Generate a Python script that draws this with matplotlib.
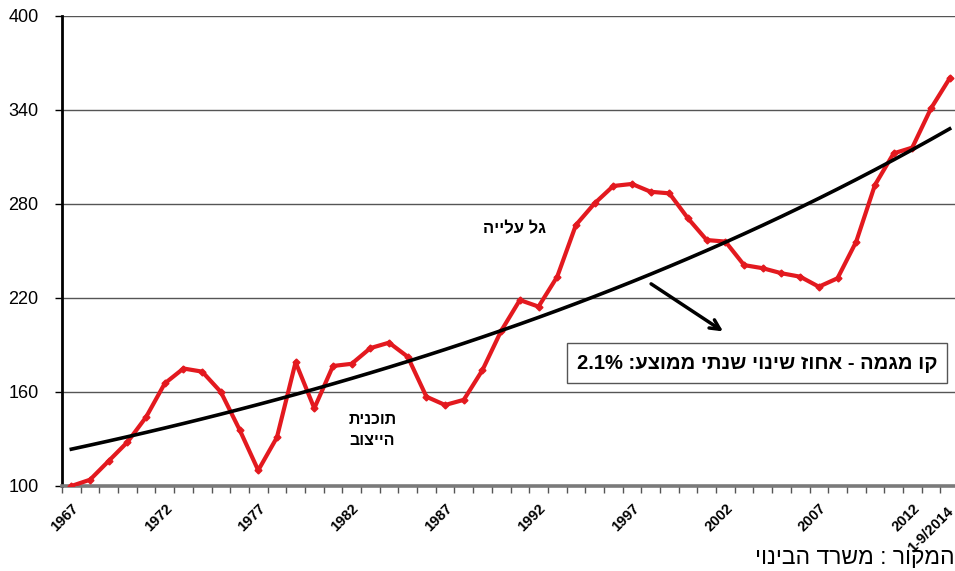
import re
import numpy as np
import matplotlib
matplotlib.use("Agg")
from matplotlib import pyplot as plt
from matplotlib import transforms

plt.rcParams['font.family'] = ['Liberation Sans', 'DejaVu Sans']

# yearly index, 1967 = 100
years = list(range(1967, 2015))
index_values = [100, 104, 116, 128, 144, 165.5, 175, 173, 160, 136,
                110, 131, 179, 149.6, 176.6, 178, 188, 191.5, 182.5, 157,
                151.7, 155, 174, 199, 218.7, 214.5, 233.6, 266.6, 280.4, 291.5,
                292.8, 287.8, 286.8, 270.8, 257, 256, 241, 239, 235.8, 233.6,
                227.2, 232.6, 256, 292.1, 312.3, 316, 341, 360.2]

# trend line: start level and average yearly change (%)
trend_start = 123.5
trend_rate = 2.1

tick_years = [1967, 1972, 1977, 1982, 1987, 1992, 1997, 2002, 2007, 2012, 2014]
tick_labels = ['1967', '1972', '1977', '1982', '1987', '1992', '1997', '2002',
               '2007', '2012', '1-9/2014']
y_ticks = [100, 160, 220, 280, 340, 400]

wave_label = 'גל עלייה'
plan_label = 'תוכנית\nהייצוב'
trend_label = 'קו מגמה - אחוז שינוי שנתי ממוצע: 2.1%'
source_label = 'המקור : משרד הבינוי'


def heb(s):
    # matplotlib lays text out left to right, so flip each line and keep numbers readable
    lines = []
    for line in s.split('\n'):
        flipped = line[::-1]
        flipped = re.sub(r'[0-9.%]+', lambda m: m.group(0)[::-1], flipped)
        lines.append(flipped)
    return '\n'.join(lines)


x = np.arange(len(years))
trend = trend_start * (1 + trend_rate / 100.0) ** x

fig = plt.figure(figsize=(9.55, 5.71), dpi=100)
ax = fig.add_axes([62 / 955, 85 / 571, 897 / 955, 470 / 571])

ax.set_xlim(-0.5, len(years) - 0.5)
ax.set_ylim(100, 400)

# grid lines
for yv in y_ticks[1:]:
    ax.axhline(yv, color='#555555', lw=1.0, zorder=1)

ax.plot(x, index_values, color='#e3191f', lw=3, marker='D', markersize=3.5,
        zorder=3, solid_joinstyle='round')
ax.plot(x, trend, color='black', lw=2.6, zorder=4)

# spines
for side in ['top', 'right']:
    ax.spines[side].set_visible(False)
ax.spines['left'].set_color('black')
ax.spines['left'].set_linewidth(2)
ax.spines['bottom'].set_color('#7a7a7a')
ax.spines['bottom'].set_linewidth(2.6)

ax.set_yticks(y_ticks)
ax.set_yticklabels([str(v) for v in y_ticks], fontsize=13)
ax.tick_params(axis='y', length=5, width=1, pad=12, colors='black')

tick_pos = [years.index(yr) for yr in tick_years]
ax.set_xticks(tick_pos)
ax.set_xticklabels(tick_labels, fontsize=10.5, fontweight='bold', rotation=45,
                   ha='right', rotation_mode='anchor')
ax.tick_params(axis='x', which='major', length=0, pad=11)
ax.set_xticks(np.arange(-0.5, len(years), 1), minor=True)
ax.tick_params(axis='x', which='minor', length=5, width=1, color='#555555')

# nudge the last label so it stays inside the frame
last = ax.get_xticklabels()[-1]
last.set_transform(last.get_transform() +
                   transforms.ScaledTranslation(-3 / 100, -3 / 100, fig.dpi_scale_trans))

ax.text(23.7, 264.5, heb(wave_label), fontsize=12, fontweight='bold',
        ha='center', va='center')
ax.text(16.1, 135.5, heb(plan_label), fontsize=11.5, fontweight='bold',
        ha='center', va='center', linespacing=1.5)

ax.annotate('', xy=(35.0, 197.7), xytext=(30.9, 230),
            arrowprops=dict(arrowstyle='->,head_length=0.7,head_width=0.35',
                            color='black', lw=2.5))

ax.text(36.7, 178.5, heb(trend_label), fontsize=14.5, fontweight='bold',
        ha='center', va='center',
        bbox=dict(boxstyle='square,pad=0.5', facecolor='white',
                  edgecolor='#555555', lw=1))

fig.text(955 / 955, 1 - 558 / 571, heb(source_label), fontsize=16.5,
         ha='right', va='center')

fig.savefig('out.png', dpi=100)
